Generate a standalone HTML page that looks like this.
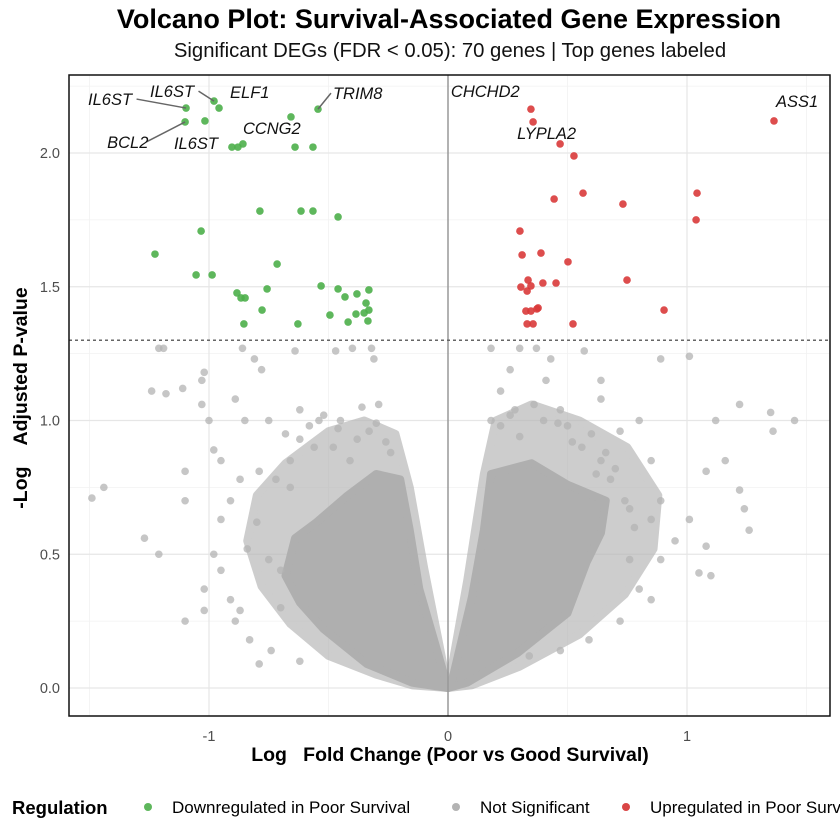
<!DOCTYPE html>
<html><head><meta charset="utf-8"><style>
html,body{margin:0;padding:0;background:#fff;width:840px;height:840px;overflow:hidden}
svg{display:block;font-family:"Liberation Sans",sans-serif}
</style></head><body>
<svg id="chart" width="840" height="840" viewBox="0 0 840 840">
<text x="449" y="28" text-anchor="middle" font-size="27" font-weight="bold">Volcano Plot: Survival-Associated Gene Expression</text>
<text x="450" y="57" text-anchor="middle" font-size="20.3" fill="#111">Significant DEGs (FDR &lt; 0.05): 70 genes | Top genes labeled</text>
<g id="grid"></g>
<g id="cloud"></g>
<g id="points"></g>
<g id="labels"></g>
<rect x="69" y="75" width="761" height="641" fill="none" stroke="#111" stroke-width="1.5"/>
<g id="axes"></g>
<text x="450" y="761" text-anchor="middle" font-size="19.5" font-weight="bold" xml:space="preserve">Log   Fold Change (Poor vs Good Survival)</text>
<text transform="translate(27,398) rotate(-90)" text-anchor="middle" font-size="19.5" font-weight="bold" xml:space="preserve">-Log    Adjusted P-value</text>
<g>
<text x="12" y="814" font-size="18.5" font-weight="bold">Regulation</text>
<g><circle cx="148" cy="807" r="4" fill="#4daf4a" opacity="0.9"/><text x="172" y="813" font-size="17">Downregulated in Poor Survival</text></g>
<g><circle cx="456" cy="807" r="4" fill="#b3b3b3"/><text x="480" y="813" font-size="17">Not Significant</text></g>
<g><circle cx="626" cy="807" r="4" fill="#d94545"/><text x="650" y="813" font-size="17">Upregulated in Poor Survival</text></g>
</g>
</svg>
<script>
const xTicks=[-1,0,1];
const xTickLabels=["-1","0","1"];
const yTicks=[0,0.5,1,1.5,2];
const yTickLabels=["0.0","0.5","1.0","1.5","2.0"];
const threshold=1.30;
const downFC=[-1.226,-1.096,-1.017,-0.979,-0.958,-1.100,-0.904,-0.879,-0.858,-0.657,-0.640,-0.565,-0.544,-0.787,-0.615,-0.565,-0.460,-1.033,-1.054,-0.987,-0.715,-0.883,-0.866,-0.849,-0.757,-0.531,-0.460,-0.431,-0.381,-0.331,-0.778,-0.854,-0.628,-0.494,-0.418,-0.385,-0.331,-0.343,-0.335,-0.351];
const downP=[1.622,2.168,2.120,2.194,2.168,2.116,2.022,2.022,2.034,2.135,2.022,2.022,2.164,1.783,1.783,1.783,1.761,1.708,1.544,1.544,1.585,1.477,1.458,1.458,1.492,1.503,1.492,1.462,1.473,1.488,1.413,1.361,1.361,1.394,1.368,1.398,1.413,1.439,1.372,1.402];
const upFC=[1.364,0.347,0.356,0.469,0.527,0.565,0.732,1.042,1.038,0.444,0.301,0.389,0.502,0.749,0.310,0.335,0.347,0.305,0.331,0.397,0.452,0.372,0.326,0.347,0.377,0.331,0.356,0.523,0.904];
const upP=[2.120,2.164,2.116,2.034,1.989,1.850,1.809,1.850,1.750,1.828,1.708,1.626,1.593,1.525,1.619,1.525,1.503,1.499,1.484,1.514,1.514,1.417,1.409,1.409,1.421,1.361,1.361,1.361,1.413];
const nsFC=[-1.44,-1.49,-1.27,-1.21,-1.10,-1.02,-1.10,-1.10,-1.11,-1.18,-1.24,-1.21,-1.19,-1.02,-1.03,-0.86,-0.81,-0.78,-0.64,-0.47,-0.40,-0.32,-0.31,-1.03,-1.00,-0.98,-0.95,-0.89,-0.85,-0.75,-0.62,-0.54,-0.45,-0.29,-0.38,-0.62,-0.79,-0.87,-0.95,-0.91,-0.75,-0.98,-0.95,-1.02,-0.91,-0.87,-0.89,-0.83,-0.74,-0.79,-0.62,-0.70,-0.66,-0.41,-0.33,
0.18,0.30,0.37,0.43,0.57,1.01,1.22,1.35,1.45,1.36,1.22,1.24,1.26,1.08,1.05,1.10,0.95,0.85,0.89,0.76,0.64,0.72,0.47,0.28,0.22,0.68,0.80,0.85,0.72,0.59,0.47,0.34,0.76,0.89,1.01,1.08,1.16,1.12,0.80,0.64,0.89,0.64,0.41,0.26,0.18,0.85,
-0.72,-0.68,-0.58,-0.52,-0.46,-0.36,-0.30,-0.26,-0.24,-0.56,-0.80,-0.84,-0.66,-0.48,-0.70,0.22,0.26,0.30,0.36,0.46,0.52,0.60,0.66,0.70,0.74,0.78,0.56,0.50,0.40,0.62];
const nsP=[0.75,0.71,0.56,0.50,0.25,0.29,0.70,0.81,1.12,1.10,1.11,1.27,1.27,1.18,1.15,1.27,1.23,1.19,1.26,1.26,1.27,1.27,1.23,1.06,1.00,0.89,0.85,1.08,1.00,1.00,1.04,1.00,1.00,1.06,0.93,0.93,0.81,0.78,0.63,0.70,0.48,0.50,0.44,0.37,0.33,0.29,0.25,0.18,0.14,0.09,0.10,0.44,0.85,0.85,0.96,
1.27,1.27,1.27,1.23,1.26,1.24,1.06,1.03,1.00,0.96,0.74,0.67,0.59,0.53,0.43,0.42,0.55,0.63,0.70,0.67,0.85,0.96,1.04,1.04,1.11,0.78,0.37,0.33,0.25,0.18,0.14,0.12,0.48,0.48,0.63,0.81,0.85,1.00,1.00,1.08,1.23,1.15,1.15,1.19,1.00,0.85,
0.78,0.95,0.98,1.02,0.97,1.05,0.99,0.92,0.88,0.90,0.62,0.52,0.75,0.90,0.30,0.98,1.02,0.94,1.06,0.99,0.92,0.95,0.88,0.82,0.70,0.60,0.90,0.98,1.00,0.80];
const leftCloudFC=[0,-0.12,-0.16,-0.20,-0.30,-0.42,-0.55,-0.64,-0.68,-0.62,-0.52,-0.34,-0.15];
const leftCloudP=[0,0.37,0.59,0.78,0.80,0.72,0.62,0.56,0.42,0.32,0.22,0.09,0.02];
const rightCloudFC=[0,0.02,0.10,0.15,0.18,0.35,0.5,0.66,0.64,0.58,0.5,0.29,0.08];
const rightCloudP=[0,0.04,0.34,0.59,0.80,0.84,0.76,0.70,0.58,0.47,0.28,0.13,0.02];
const haloLeftFC=[0,-0.10,-0.16,-0.22,-0.35,-0.5,-0.68,-0.80,-0.84,-0.78,-0.66,-0.5,-0.3,-0.15];
const haloLeftP=[0,0.45,0.75,0.95,1.00,0.96,0.84,0.72,0.55,0.38,0.24,0.12,0.05,0.01];
const haloRightFC=[0,0.08,0.15,0.20,0.35,0.55,0.75,0.88,0.86,0.74,0.55,0.30,0.10];
const haloRightP=[0,0.40,0.80,1.00,1.06,1.00,0.90,0.72,0.52,0.35,0.20,0.08,0.01];
const geneNames=["ASS1","CHCHD2","LYPLA2","IL6ST","IL6ST","ELF1","TRIM8","CCNG2","BCL2","IL6ST"];
const geneLabelFC=[1.364,0.347,0.469,-1.096,-0.979,-0.958,-0.544,-0.858,-1.100,-0.904];
const geneLabelP=[2.120,2.164,2.034,2.168,2.194,2.168,2.164,2.034,2.116,2.022];
const labelOffX=[2,-80,-43,-98,-64,11,15,0,-78,-58];
const labelOffY=[-14,-12,-5,-3,-4,-10,-10,-10,26,2];
const labelLine=[false,false,false,true,true,false,true,false,true,false];

const NS="http://www.w3.org/2000/svg";
const X=v=>448+v*239, Y=v=>688-v*267.5;
function mk(tag,attrs,parent){const e=document.createElementNS(NS,tag);for(const k in attrs)e.setAttribute(k,attrs[k]);parent.appendChild(e);return e;}
const grid=document.getElementById('grid'),axes=document.getElementById('axes');
for(let v=-1.5;v<=1.5;v+=0.5){if(Math.abs(v%1)>0.1){const l=mk('line',{x1:X(v),x2:X(v),y1:75,y2:716,stroke:'#f2f2f2','stroke-width':0.8},grid);}}
for(let v=0.25;v<=2.25;v+=0.5){const l=mk('line',{x1:69,x2:830,y1:Y(v),y2:Y(v),stroke:'#f2f2f2','stroke-width':0.8},grid);}
xTicks.forEach((v,i)=>{const l=mk('line',{x1:X(v),x2:X(v),y1:75,y2:716,stroke:'#e6e6e6','stroke-width':1.2},grid);
const t=mk('text',{x:X(v),y:741,'text-anchor':'middle','font-size':14.5,fill:'#4d4d4d'},axes);t.textContent=xTickLabels[i];});
yTicks.forEach((v,i)=>{const l=mk('line',{x1:69,x2:830,y1:Y(v),y2:Y(v),stroke:'#e6e6e6','stroke-width':1.2},grid);
const t=mk('text',{x:60,y:Y(v)+5,'text-anchor':'end','font-size':14.5,fill:'#4d4d4d'},axes);t.textContent=yTickLabels[i];});
const cloud=document.getElementById('cloud');
function poly(fc,p,fill,op,name){const pts=fc.map((v,i)=>X(v)+','+Y(p[i])).join(' ');const e=mk('polygon',{points:pts,fill:fill,opacity:op,'stroke-linejoin':'round',stroke:fill,'stroke-width':8},cloud);}
poly(haloLeftFC,haloLeftP,'#b8b8b8',0.7,'left-halo');
poly(haloRightFC,haloRightP,'#b8b8b8',0.7,'right-halo');
poly(leftCloudFC,leftCloudP,'#afafaf',1,'left-dense-cloud');
poly(rightCloudFC,rightCloudP,'#afafaf',1,'right-dense-cloud');
const pg=document.getElementById('points');
nsFC.forEach((v,i)=>{const c=mk('circle',{cx:X(v),cy:Y(nsP[i]),r:3.8,fill:'#b3b3b3',opacity:0.75},pg);});
const vl=mk('line',{x1:X(0),x2:X(0),y1:75,y2:716,stroke:'#999','stroke-width':1.5},pg);
const hl=mk('line',{x1:69,x2:830,y1:Y(threshold),y2:Y(threshold),stroke:'#666','stroke-width':1.5,'stroke-dasharray':'3,3'},pg);
downFC.forEach((v,i)=>{const c=mk('circle',{cx:X(v),cy:Y(downP[i]),r:3.8,fill:'#4daf4a',opacity:0.9},pg);});
upFC.forEach((v,i)=>{const c=mk('circle',{cx:X(v),cy:Y(upP[i]),r:3.8,fill:'#d93a3a',opacity:0.9},pg);});
const lg=document.getElementById('labels');
geneNames.forEach((n,i)=>{const px=X(geneLabelFC[i]),py=Y(geneLabelP[i]);const tx=px+labelOffX[i],ty=py+labelOffY[i];
if(labelLine[i]){const w=n.length*9.3;const lx=labelOffX[i]<0?tx+w+2:tx-2;const ln=mk('line',{x1:lx,y1:ty-6,x2:px,y2:py,stroke:'#666','stroke-width':1.5},lg);}
const t=mk('text',{x:tx,y:ty,'font-size':16.5,'font-style':'italic',fill:'#111'},lg);t.textContent=n;});
</script>
</body></html>
